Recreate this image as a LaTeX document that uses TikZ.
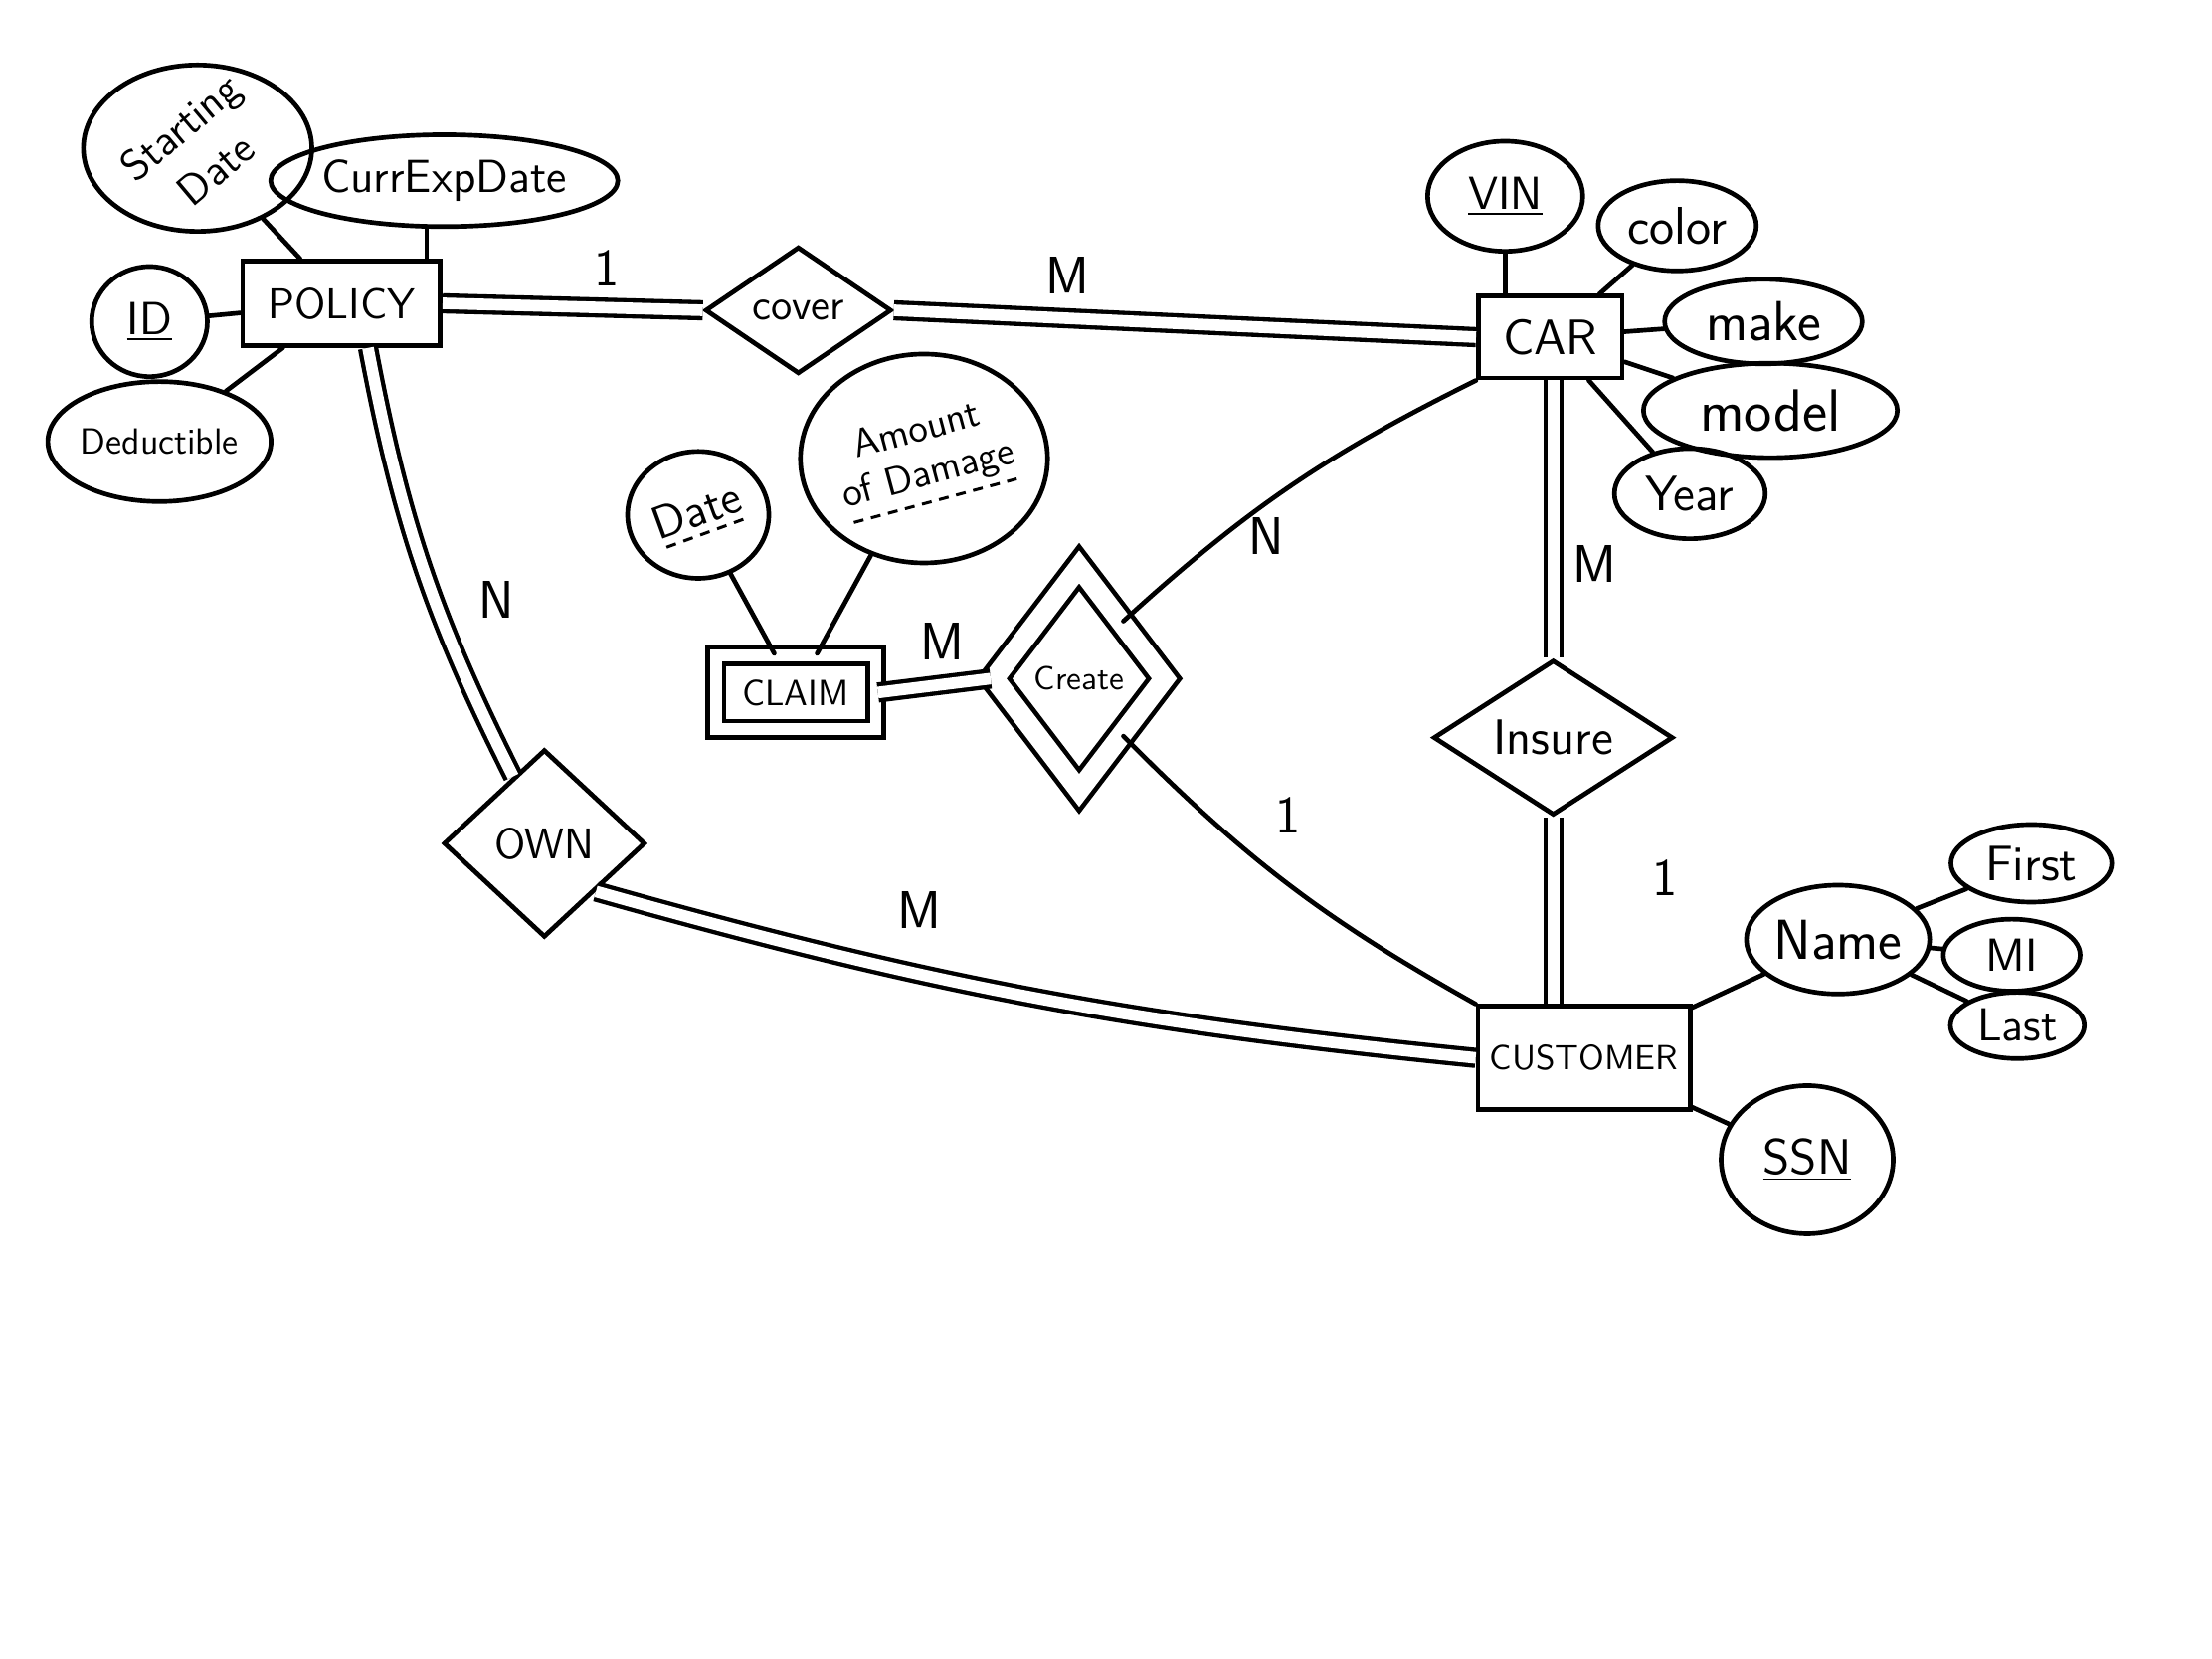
\documentclass[tikz,border=0pt]{standalone}
\usepackage{tikz}
\usepackage{graphicx}
\usetikzlibrary{shapes.geometric}

\newcommand{\dashunder}[1]{\setbox0=\hbox{#1}\leavevmode\vtop{\copy0\nointerlineskip\kern2pt\hbox to\wd0{\xleaders\hbox to 5pt{\hss\vrule width 3pt height 0.9pt\hss}\hfill}}}

\begin{document}
\begin{tikzpicture}[x=1pt,y=1pt,
  entity/.style={draw=drawColor,line width=1.4pt,rectangle,inner sep=0pt,font=\sffamily\fontsize{13}{15}\selectfont},
  weakentity/.style={entity,double,double distance=3.5pt},
  relation/.style={draw=drawColor,line width=1.4pt,diamond,inner sep=0pt,font=\sffamily\fontsize{13}{15}\selectfont},
  identrel/.style={relation,double,double distance=6pt},
  attr/.style={draw=drawColor,line width=1.4pt,ellipse,inner sep=0pt,align=center,font=\sffamily\fontsize{14}{15}\selectfont},
  card/.style={text=drawColor,inner sep=0pt,font=\sffamily\fontsize{16}{16}\selectfont},
  link/.style={draw=drawColor,line width=1.4pt,line cap=round},
  total/.style={draw=drawColor,line width=1.3pt,double,double distance=3.5pt}
]
\definecolor[named]{drawColor}{rgb}{0.00,0.00,0.00}
\definecolor[named]{fillColor}{rgb}{1.00,1.00,1.00}
\path[use as bounding box,fill=fillColor] (0,0) rectangle (667.20,500.40);

% entities
\node[entity,minimum width=59.6pt,minimum height=25.5pt] (policy) at (103.00,408.90) {POLICY};
\node[entity,minimum width=43.4pt,minimum height=24.7pt,font=\sffamily\fontsize{15}{15}\selectfont] (car) at (467.60,398.70) {CAR};
\node[weakentity,minimum width=48.2pt,minimum height=22.2pt,font=\sffamily\fontsize{11}{12}\selectfont] (claim) at (240.00,291.50) {CLAIM};
\node[entity,minimum width=64.0pt,minimum height=31.1pt,font=\sffamily\fontsize{10.5}{12}\selectfont] (customer) at (477.80,181.30) {CUSTOMER};

% relationships
\node[relation,minimum width=56.2pt,minimum height=38.3pt] (cover) at (240.80,406.80) {cover};
\node[identrel,minimum width=52.0pt,minimum height=68.0pt,font=\sffamily\fontsize{10}{12}\selectfont] (create) at (325.50,295.70) {Create};
\node[relation,minimum width=60.8pt,minimum height=56.6pt] (own) at (164.20,246.00) {OWN};
\node[relation,minimum width=72.3pt,minimum height=43.8pt,font=\sffamily\fontsize{15}{15}\selectfont] (insure) at (468.50,277.90) {Insure};

% attributes of POLICY
\node[attr,minimum width=68.9pt,minimum height=50.2pt,inner sep=-12pt,font=\sffamily\fontsize{13}{14}\selectfont] (startdate) at ( 59.60,455.70) {\rotatebox{40}{\shortstack{Starting\\[2pt]Date}}};
\node[attr,minimum width=100.0pt,minimum height=27.7pt] (currexp) at (134.00,445.90) {CurrExpDate};
\node[attr,minimum width=34.9pt,minimum height=33.2pt] (id) at ( 45.10,403.40) {\underline{ID}};
\node[attr,minimum width=60.8pt,minimum height=36.2pt,font=\sffamily\fontsize{11}{12}\selectfont] (deductible) at ( 48.10,367.20) {Deductible};

% attributes of CLAIM
\node[attr,minimum width=42.6pt,minimum height=38.3pt,inner sep=-3pt] (date) at (210.60,345.10) {\rotatebox{20}{\dashunder{Date}}};
\node[attr,minimum width=71.5pt,minimum height=63.0pt,inner sep=-3pt,font=\sffamily\fontsize{12}{13}\selectfont] (amount) at (278.70,362.10) {\rotatebox{15}{\shortstack{Amount\\[2pt]\dashunder{of Damage}}}};

% attributes of CAR
\node[attr,minimum width=46.8pt,minimum height=33.2pt] (vin) at (454.00,441.20) {\underline{VIN}};
\node[attr,minimum width=47.7pt,minimum height=27.2pt,font=\sffamily\fontsize{16}{16}\selectfont] (color) at (505.90,432.30) {color};
\node[attr,minimum width=59.6pt,minimum height=25.5pt,font=\sffamily\fontsize{17}{17}\selectfont] (make) at (531.90,403.40) {make};
\node[attr,minimum width=76.6pt,minimum height=28.5pt,font=\sffamily\fontsize{18}{18}\selectfont] (model) at (534.00,376.60) {model};
\node[attr,minimum width=45.5pt,minimum height=27.2pt,font=\sffamily\fontsize{15}{15}\selectfont] (year) at (509.70,351.50) {Year};

% attributes of CUSTOMER
\node[attr,minimum width=55.3pt,minimum height=32.8pt,font=\sffamily\fontsize{17}{17}\selectfont] (name) at (554.40,217.00) {Name};
\node[attr,minimum width=48.5pt,minimum height=23.4pt,font=\sffamily\fontsize{15}{15}\selectfont] (first) at (612.70,240.00) {First};
\node[attr,minimum width=41.3pt,minimum height=21.7pt] (mi) at (606.80,212.30) {MI};
\node[attr,minimum width=40.4pt,minimum height=20.0pt] (last) at (608.50,191.10) {Last};
\node[attr,minimum width=51.9pt,minimum height=44.7pt,font=\sffamily\fontsize{15}{15}\selectfont] (ssn) at (545.10,150.60) {\underline{SSN}};

% relationship lines
\draw[total] (policy.east) -- (cover.west);
\draw[total] (cover.east) -- (car.west);
\draw[total] ([xshift=8pt]policy.south) to[bend right=8] (own.115);
\draw[total] (own.south east) to[bend right=5] (customer.west);
\draw[total] (claim.east) -- (create.west);
\draw[link] (create.north east) to[bend left=8] (car.south west);
\draw[link] (create.south east) to[bend right=8] (customer.north west);
\draw[total] (car.south -| insure.north) -- (insure.north);
\draw[total] (insure.south) -- (insure.south |- customer.north);

% attribute lines
\draw[link] (startdate) -- (policy);
\draw[link] (currexp.250) -- (currexp.250 |- policy.north);
\draw[link] (id) -- (policy);
\draw[link] (deductible) -- (policy);
\draw[link] (date) -- (claim);
\draw[link] (amount) -- (claim);
\draw[link] (vin.south) -- (vin.south |- car.north);
\draw[link] (color) -- (car);
\draw[link] (make) -- (car);
\draw[link] (model) -- (car);
\draw[link] (year) -- (car);
\draw[link] (name) -- (customer);
\draw[link] (ssn) -- (customer);
\draw[link] (name) -- (first);
\draw[link] (name) -- (mi);
\draw[link] (name) -- (last);

% cardinalities
\node[card] (cardPolicyCover) at (183.00,419.60) {1};
\node[card] (cardCoverCar) at (322.10,417.40) {M};
\node[card] (cardPolicyOwn) at (149.80,319.60) {N};
\node[card] (cardOwnCustomer) at (277.40,226.00) {M};
\node[card] (cardClaimCreate) at (284.20,306.80) {M};
\node[card] (cardCreateCar) at (382.10,338.70) {N};
\node[card] (cardCreateCustomer) at (388.50,254.50) {1};
\node[card] (cardCarInsure) at (481.00,330.20) {M};
\node[card] (cardInsureCustomer) at (502.10,235.70) {1};
\end{tikzpicture}
\end{document}
